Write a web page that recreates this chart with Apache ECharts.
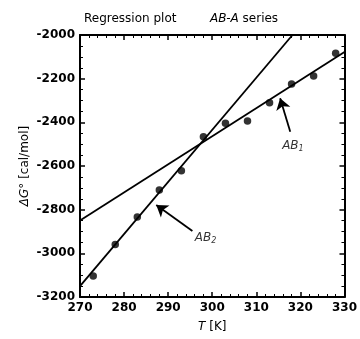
<!DOCTYPE html>
<html><head><meta charset="utf-8">
<script src="https://cdn.jsdelivr.net/npm/echarts@6/dist/echarts.min.js"></script>
<style>html,body{margin:0;padding:0;background:#fff}#c{width:360px;height:339px}</style>
</head><body><div id="c"></div>
<script>
// Measured data (T in K, ΔG° in cal/mol)
const temps = [273, 278, 283, 288, 293, 298, 303, 308, 313, 318, 323, 328];
const deltaG = [-3104, -2960, -2834, -2710, -2622, -2466, -2404, -2394, -2310, -2224, -2188, -2084];
// Regression lines (end points)
const lineAB2 = [[270, -3150], [318.2, -2000]];
const lineAB1 = [[270, -2850], [330, -2078]];
// Annotation arrows [tail, tip] and label positions
const arrowAB2 = [[295.5, -2898], [287.3, -2779]];
const arrowAB1 = [[317.7, -2443], [315.4, -2290]];
const labelAB2 = [298.5, -2930];
const labelAB1 = [318.3, -2510];
const xTicks = [270, 280, 290, 300, 310, 320, 330];
const yTicks = [-3200, -3000, -2800, -2600, -2400, -2200, -2000];

const FONT = 'DejaVu Sans';
const points = temps.map((t, i) => [t, deltaG[i]]);
const tickLabel = {fontSize: 12, fontWeight: 'bold', color: '#000', margin: 5, fontFamily: FONT,
  formatter: v => String(v)};
function axisBase(extra) {
  return Object.assign({
    axisLine: {show: true, onZero: false, lineStyle: {color: '#000', width: 2}},
    axisTick: {show: true, inside: true, length: 5, lineStyle: {color: '#000', width: 1.5}},
    minorTick: {show: true, splitNumber: 5, length: 3, lineStyle: {color: '#000', width: 1}},
    splitLine: {show: false}
  }, extra);
}
const chart = echarts.init(document.getElementById('c'));
chart.setOption({
  animation: false,
  backgroundColor: '#fff',
  textStyle: {fontFamily: FONT, color: '#000'},
  title: [
    {text: 'Regression plot', left: 79, top: 8, textStyle: {fontSize: 12, fontWeight: 'normal', fontFamily: FONT, color: '#000'}},
    {text: '{i|AB-A} series', left: 205, top: 8, textStyle: {fontSize: 12, fontWeight: 'normal', fontFamily: FONT, color: '#000',
      rich: {i: {fontStyle: 'italic', fontSize: 12, fontFamily: FONT, color: '#000'}}}}
  ],
  grid: {left: 80, right: 15, top: 35, bottom: 42},
  xAxis: [
    axisBase({
      type: 'value', min: xTicks[0], max: xTicks[xTicks.length - 1], interval: 10, position: 'bottom',
      axisLabel: tickLabel,
      name: '{i|T} [K]', nameLocation: 'middle', nameGap: 24, nameMoveOverlap: false,
      nameTextStyle: {fontSize: 12, color: '#000', fontFamily: FONT,
        rich: {i: {fontStyle: 'italic', fontSize: 12, fontFamily: FONT, color: '#000'}}}
    }),
    axisBase({
      type: 'value', min: xTicks[0], max: xTicks[xTicks.length - 1], interval: 10, position: 'top',
      axisLabel: {show: false}
    })
  ],
  yAxis: [
    axisBase({
      type: 'value', min: yTicks[0], max: yTicks[yTicks.length - 1], interval: 200, position: 'left',
      minorTick: {show: true, splitNumber: 4, length: 3, lineStyle: {color: '#000', width: 1}},
      axisLabel: tickLabel,
      name: '{i|ΔG}° [cal/mol]', nameLocation: 'middle', nameGap: 49, nameRotate: 90, nameMoveOverlap: false,
      nameTextStyle: {fontSize: 12, color: '#000', fontFamily: FONT,
        rich: {i: {fontStyle: 'italic', fontSize: 12, fontFamily: FONT, color: '#000'}}}
    }),
    axisBase({
      type: 'value', min: yTicks[0], max: yTicks[yTicks.length - 1], interval: 200, position: 'right',
      minorTick: {show: true, splitNumber: 4, length: 3, lineStyle: {color: '#000', width: 1}},
      axisLabel: {show: false}
    })
  ],
  series: [
    {type: 'line', data: lineAB2, showSymbol: false, lineStyle: {color: '#000', width: 1.8}, z: 2},
    {type: 'line', data: lineAB1, showSymbol: false, lineStyle: {color: '#000', width: 1.8}, z: 2},
    {type: 'scatter', data: points, symbol: 'circle', symbolSize: 7.5, itemStyle: {color: '#000'}, z: 3},
    {type: 'line', data: [], markLine: {
      silent: true, symbol: ['none', 'arrow'], symbolSize: 11,
      label: {show: false}, lineStyle: {color: '#000', width: 1.8, type: 'solid'},
      itemStyle: {color: '#000'},
      data: [
        [{coord: arrowAB2[0]}, {coord: arrowAB2[1]}],
        [{coord: arrowAB1[0]}, {coord: arrowAB1[1]}]
      ]}},
    {type: 'scatter', symbolSize: 0, silent: true,
      data: [{value: labelAB2, name: '2'}, {value: labelAB1, name: '1'}],
      label: {show: true, position: 'inside',
        formatter: p => '{i|AB}{s|' + p.name + '}',
        rich: {
          i: {fontStyle: 'italic', fontSize: 12, fontFamily: FONT, color: '#000'},
          s: {fontStyle: 'italic', fontSize: 8, fontFamily: FONT, color: '#000', padding: [6, 0, 0, 0]}
        }}}
  ]
});
</script></body></html>
